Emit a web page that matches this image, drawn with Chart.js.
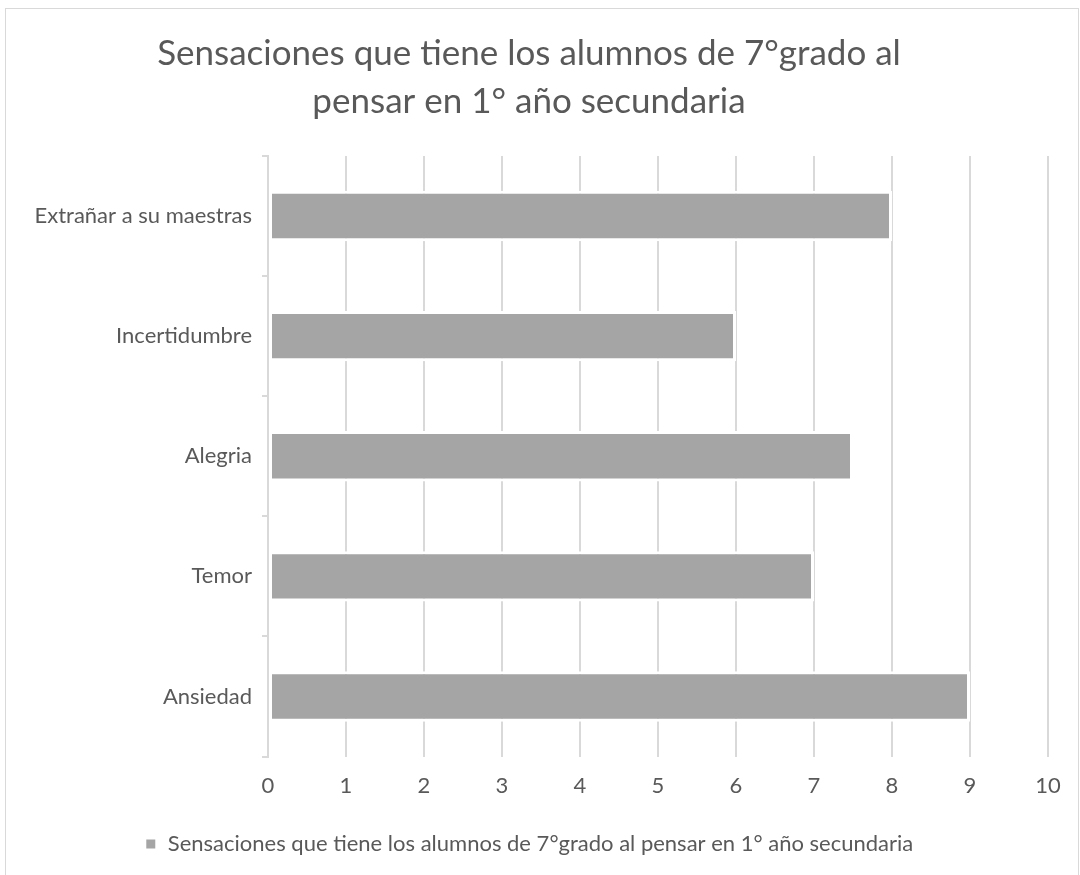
<!DOCTYPE html>
<html>
<head>
<meta charset="utf-8">
<script src="https://cdn.jsdelivr.net/npm/chart.js@4.4.1/dist/chart.umd.min.js"></script>
<style>
  body { margin: 0; background: #fff; }
  #wrap { position: relative; width: 1080px; height: 875px; }
  #frame { position: absolute; left: 5px; top: 8px; width: 1072px; height: 880px; border: 1px solid #d9d9d9; pointer-events: none; }
</style>
</head>
<body>
<div id="wrap">
  <canvas id="chart" width="1080" height="875"></canvas>
  <div id="frame"></div>
</div>
<script>
// --- data ---
const categories = ['Extrañar a su maestras', 'Incertidumbre', 'Alegria', 'Temor', 'Ansiedad'];
const values = [8, 6, 7.5, 7, 9];
const seriesName = 'Sensaciones que tiene los alumnos de 7°grado al pensar en 1° año secundaria';
const titleLines = ['Sensaciones que tiene los alumnos de 7°grado al', 'pensar en 1° año secundaria'];

const textColor = '#595959';
const gridColor = '#d9d9d9';
const fontFamily = 'Lato, "Open Sans", sans-serif';

new Chart(document.getElementById('chart'), {
    type: 'bar',
    data: {
        labels: categories,
        datasets: [{
            label: seriesName,
            data: values,
            backgroundColor: '#a5a5a5',
            borderColor: '#ffffff',
            borderWidth: 3,
            borderSkipped: false,
            barPercentage: 0.42,
            categoryPercentage: 1
        }]
    },
    options: {
        indexAxis: 'y',
        responsive: false,
        animation: false,
        layout: { padding: { left: 10, right: 32, top: 0, bottom: 10 } },
        plugins: {
            title: {
                display: true,
                text: titleLines,
                color: textColor,
                font: { family: fontFamily, size: 35, weight: 'normal', lineHeight: 1.37 },
                padding: { top: 30, bottom: 30 }
            },
            legend: {
                position: 'bottom',
                labels: {
                    color: textColor,
                    font: { family: fontFamily, size: 22 },
                    boxWidth: 12,
                    boxHeight: 12,
                    padding: 10
                }
            },
            tooltip: { enabled: false }
        },
        scales: {
            x: {
                min: 0,
                max: 10,
                afterFit: (axis) => { axis.height += 8; },
                ticks: { stepSize: 1, color: textColor, font: { family: fontFamily, size: 22 }, padding: 16 },
                grid: { color: gridColor, lineWidth: 2, drawTicks: false },
                border: { display: false }
            },
            y: {
                afterFit: (axis) => { axis.width = 258; },
                ticks: { color: textColor, font: { family: fontFamily, size: 22 }, padding: 10 },
                grid: { color: gridColor, lineWidth: 2, drawOnChartArea: false, tickLength: 6 },
                border: { color: gridColor, width: 2 }
            }
        }
    }
});
</script>
</body>
</html>
